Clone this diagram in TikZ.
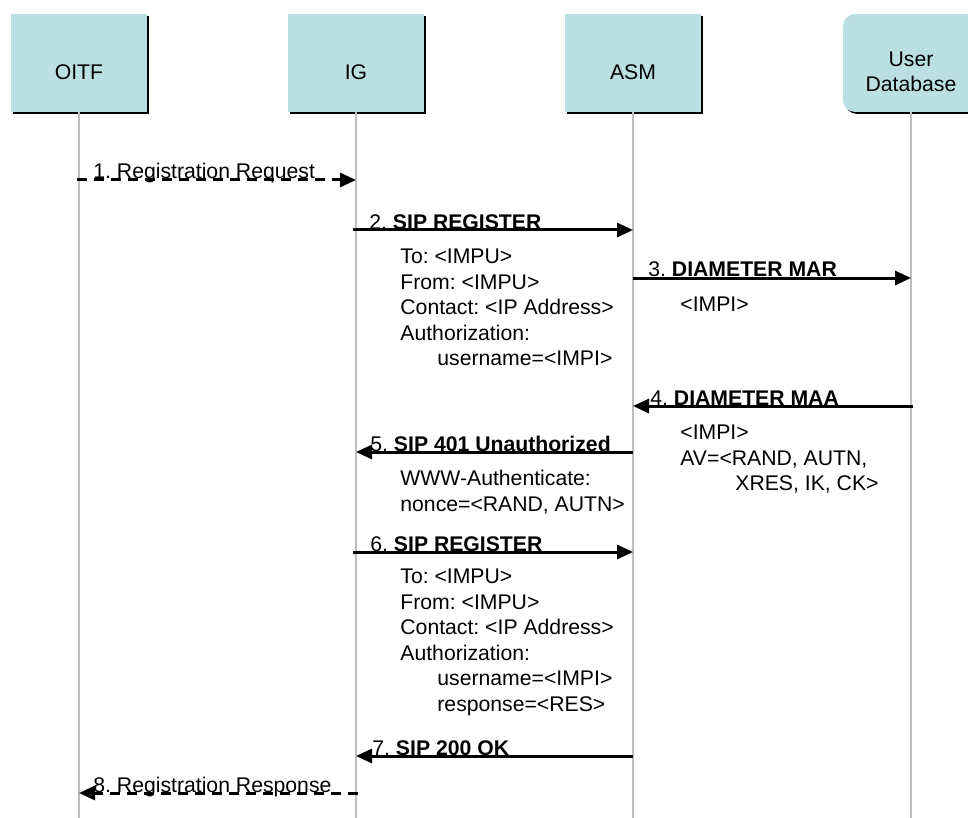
\documentclass[tikz,border=0pt]{standalone}
\usepackage{fontspec}
\setmainfont{Liberation Sans}
\frenchspacing
\usetikzlibrary{arrows.meta}
\usetikzlibrary{shadows}
\definecolor{BoxBlue}{RGB}{186,224,227}
\definecolor{LineGray}{RGB}{190,190,190}
\tikzstyle{EntityNode}=[rectangle, fill=BoxBlue, minimum width=68pt, minimum height=49pt, inner sep=0pt, drop shadow={shadow xshift=1pt, shadow yshift=-1pt, fill=black, opacity=1}]
\tikzstyle{DbNode}=[EntityNode, rounded corners=6pt]
\tikzstyle{EntityText}=[yshift=-4.5pt, align=center, inner sep=0pt]
\tikzstyle{LifeLine}=[draw=LineGray, line width=0.75pt]
\tikzstyle{MsgEdge}=[-{Triangle[length=8pt,width=7pt]}, line width=1.5pt]
\tikzstyle{DashEdge}=[MsgEdge, dash pattern=on 5pt off 3.5pt]
\tikzstyle{MsgLabel}=[anchor=base west, inner sep=0pt]
\tikzstyle{ParamText}=[anchor=north west, align=left, inner sep=0pt]

\begin{document}
\begin{tikzpicture}[x=0.5pt, y=-0.5pt, font=\fontsize{10.6pt}{12.75pt}\selectfont]
\useasboundingbox (0,0) rectangle (968,818);
\clip (0,0) rectangle (968,818);

% participants
\node[EntityNode, label={[EntityText]center:OITF}](OITF) at (79,63) {};
\node[EntityNode, label={[EntityText]center:IG}](IG) at (356,63) {};
\node[EntityNode, label={[EntityText]center:ASM}](ASM) at (633,63) {};
\node[DbNode, label={[EntityText]center:User\\Database}](UDB) at (911,63) {};

\coordinate (OITFend) at (79,818);
\coordinate (IGend) at (356,818);
\coordinate (ASMend) at (633,818);
\coordinate (UDBend) at (911,818);

\draw[LifeLine](OITF.south) -- (OITFend);
\draw[LifeLine](IG.south) -- (IGend);
\draw[LifeLine](ASM.south) -- (ASMend);
\draw[LifeLine](UDB.south) -- (UDBend);

% message end points
\coordinate (OITF1) at (77,180);
\coordinate (IG1) at (356,180);
\coordinate (IG2) at (353,230);
\coordinate (ASM2) at (633,230);
\coordinate (ASM3) at (633,278);
\coordinate (UDB3) at (911,278);
\coordinate (UDB4) at (913,406);
\coordinate (ASM4) at (633,406);
\coordinate (ASM5) at (633,452);
\coordinate (IG5) at (356,452);
\coordinate (IG6) at (353,552);
\coordinate (ASM6) at (633,552);
\coordinate (ASM7) at (633,756);
\coordinate (IG7) at (356,756);
\coordinate (IG8) at (358,793);
\coordinate (OITF8) at (79,793);

\draw[DashEdge](OITF1) -- (IG1);
\draw[MsgEdge](IG2) -- (ASM2);
\draw[MsgEdge](ASM3) -- (UDB3);
\draw[MsgEdge](UDB4) -- (ASM4);
\draw[MsgEdge](ASM5) -- (IG5);
\draw[MsgEdge](IG6) -- (ASM6);
\draw[MsgEdge](ASM7) -- (IG7);
\draw[DashEdge](IG8) -- (OITF8);

% message labels
\node[MsgLabel](L1) at (93,179) {1. Registration Request};
\node[MsgLabel](L2) at (369,229) {2. \textbf{SIP REGISTER}};
\node[MsgLabel](L3) at (648,277) {3. \textbf{DIAMETER MAR}};
\node[MsgLabel](L4) at (650,405) {4. \textbf{DIAMETER MAA}};
\node[MsgLabel](L5) at (370,451) {5. \textbf{SIP 401 Unauthorized}};
\node[MsgLabel](L6) at (370,551) {6. \textbf{SIP REGISTER}};
\node[MsgLabel](L7) at (372,755) {7. \textbf{SIP 200 OK}};
\node[MsgLabel](L8) at (93,792) {8. Registration Response};

% message parameters
\node[ParamText](P2) at (400,249) {To: <IMPU>\\From: <IMPU>\\Contact: <IP Address>\\Authorization:\\\hspace*{18.5pt}username=<IMPI>};
\node[ParamText](P3) at (680,297) {<IMPI>};
\node[ParamText](P4) at (680,425) {<IMPI>\\AV=<RAND, AUTN,\\\hspace*{27.5pt}XRES, IK, CK>};
\node[ParamText](P5) at (400,470) {WWW-Authenticate:\\nonce=<RAND, AUTN>};
\node[ParamText](P6) at (400,569) {To: <IMPU>\\From: <IMPU>\\Contact: <IP Address>\\Authorization:\\\hspace*{18.5pt}username=<IMPI>\\\hspace*{18.5pt}response=<RES>};
\end{tikzpicture}
\end{document}
